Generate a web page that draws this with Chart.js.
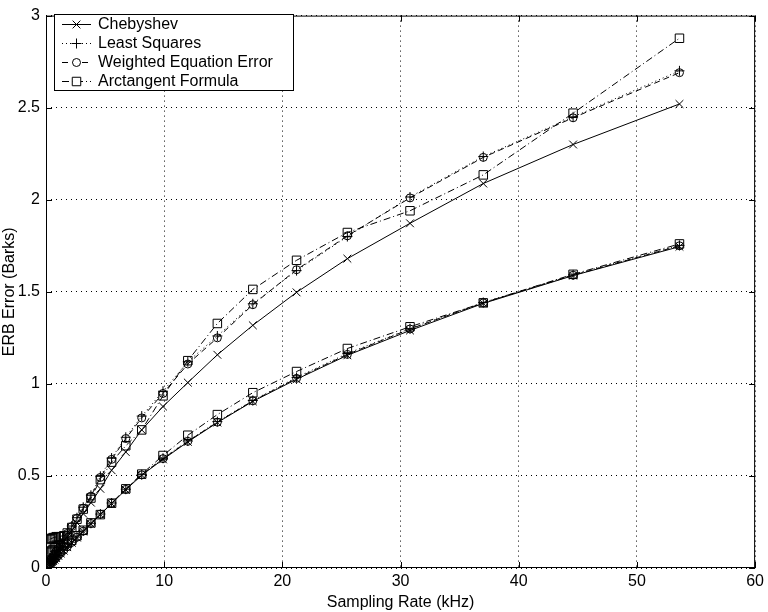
<!DOCTYPE html>
<html>
<head>
<meta charset="utf-8">
<script src="https://cdn.jsdelivr.net/npm/chart.js@4.4.1/dist/chart.umd.min.js"></script>
<style>
  body { margin: 0; background: #fff; }
  #theChart { display: block; }
</style>
</head>
<body>
<canvas id="theChart" width="768" height="612"></canvas>
<script>
'use strict';

// sampling rates (kHz)
let xRate = [0.34, 0.41, 0.5, 0.6, 0.72, 0.86, 1.04, 1.25, 1.5, 1.8, 2.18, 2.62, 3.15, 3.8, 4.6, 5.55, 6.75, 8.1, 9.9, 12.0, 14.5, 17.5, 21.2, 25.5, 30.8, 37.0, 44.6, 53.6];

// upper group of curves
let chebHigh = [0.032, 0.039, 0.047, 0.057, 0.068, 0.082, 0.098, 0.118, 0.142, 0.17, 0.205, 0.245, 0.295, 0.355, 0.43, 0.531, 0.63, 0.75, 0.877, 1.007, 1.158, 1.318, 1.497, 1.68, 1.872, 2.088, 2.30, 2.52];
let lsHigh = [0.036, 0.044, 0.053, 0.063, 0.076, 0.091, 0.11, 0.132, 0.158, 0.19, 0.228, 0.273, 0.33, 0.395, 0.498, 0.597, 0.71, 0.825, 0.96, 1.12, 1.26, 1.435, 1.615, 1.80, 2.015, 2.235, 2.45, 2.70];
let weeHigh = [0.035, 0.043, 0.052, 0.062, 0.075, 0.09, 0.108, 0.13, 0.156, 0.187, 0.225, 0.27, 0.325, 0.39, 0.492, 0.59, 0.703, 0.815, 0.948, 1.108, 1.25, 1.43, 1.62, 1.804, 2.01, 2.23, 2.445, 2.69];
let atanHigh = [0.155, 0.16, 0.16, 0.165, 0.165, 0.17, 0.17, 0.17, 0.175, 0.19, 0.22, 0.265, 0.32, 0.38, 0.48, 0.575, 0.664, 0.75, 0.935, 1.126, 1.328, 1.513, 1.671, 1.822, 1.94, 2.135, 2.47, 2.877];

// lower group of curves
let chebLow = [0.021, 0.026, 0.031, 0.038, 0.045, 0.054, 0.066, 0.079, 0.094, 0.113, 0.137, 0.165, 0.198, 0.24, 0.29, 0.35, 0.425, 0.504, 0.59, 0.685, 0.79, 0.905, 1.025, 1.155, 1.29, 1.437, 1.588, 1.745];
let lsLow = [0.022, 0.027, 0.033, 0.039, 0.047, 0.056, 0.068, 0.081, 0.097, 0.116, 0.14, 0.168, 0.201, 0.243, 0.293, 0.353, 0.428, 0.507, 0.596, 0.69, 0.795, 0.91, 1.035, 1.165, 1.30, 1.442, 1.592, 1.752];
let weeLow = [0.022, 0.027, 0.032, 0.039, 0.046, 0.055, 0.067, 0.08, 0.096, 0.115, 0.139, 0.167, 0.2, 0.242, 0.292, 0.352, 0.427, 0.506, 0.594, 0.688, 0.792, 0.908, 1.03, 1.16, 1.298, 1.44, 1.59, 1.75];
let atanLow = [0.085, 0.09, 0.095, 0.1, 0.11, 0.115, 0.12, 0.12, 0.125, 0.135, 0.15, 0.175, 0.205, 0.245, 0.29, 0.352, 0.43, 0.51, 0.611, 0.721, 0.833, 0.952, 1.067, 1.192, 1.31, 1.44, 1.595, 1.76];

let seriesNames = ['Chebyshev', 'Least Squares', 'Weighted Equation Error', 'Arctangent Formula'];
let xTicks = [0, 10, 20, 30, 40, 50, 60];
let yTicks = [0, 0.5, 1, 1.5, 2, 2.5, 3];

let fontName = '"Liberation Sans", Arial, Helvetica, sans-serif';
let fontSize = 16;

// line / marker style per legend entry
let styles = [
    { pointStyle: 'crossRot', radius: 5.5, dash: [] },
    { pointStyle: 'cross', radius: 5, dash: [1, 3] },
    { pointStyle: 'circle', radius: 4, dash: [6, 4] },
    { pointStyle: 'rect', radius: 6, dash: [7, 3, 1, 3] }
];

function toPoints(ys) {
    let pts = [];
    for (let i = 0; i < xRate.length; i++) {
        pts.push({ x: xRate[i], y: ys[i] });
    }
    return pts;
}

function makeSet(name, ys, k) {
    let s = styles[k];
    return {
        label: name,
        data: toPoints(ys),
        borderColor: '#000',
        borderWidth: 1,
        borderDash: s.dash,
        pointStyle: s.pointStyle,
        pointRadius: s.radius,
        pointBorderColor: '#000',
        pointBackgroundColor: 'rgba(0,0,0,0)',
        pointBorderWidth: 1,
        tension: 0,
        fill: false
    };
}

let highSets = [chebHigh, lsHigh, weeHigh, atanHigh];
let lowSets = [chebLow, lsLow, weeLow, atanLow];
let datasets = [];
for (let k = 0; k < 4; k++) datasets.push(makeSet(seriesNames[k], highSets[k], k));
for (let k = 0; k < 4; k++) datasets.push(makeSet(seriesNames[k], lowSets[k], k));

// box, inward ticks and the boxed legend in the top-left corner
let frame = {
    id: 'frame',
    afterDraw(chart) {
        let ctx = chart.ctx;
        let a = chart.chartArea;
        let xs = chart.scales.x;
        let ys = chart.scales.y;
        ctx.save();
        ctx.strokeStyle = '#000';
        ctx.lineWidth = 1;
        ctx.setLineDash([]);
        ctx.strokeRect(a.left + 0.5, a.top + 0.5, a.right - a.left - 1, a.bottom - a.top - 1);
        ctx.beginPath();
        xTicks.forEach(function (v) {
            let px = Math.round(xs.getPixelForValue(v)) + 0.5;
            ctx.moveTo(px, a.bottom); ctx.lineTo(px, a.bottom - 6);
            ctx.moveTo(px, a.top); ctx.lineTo(px, a.top + 6);
        });
        yTicks.forEach(function (v) {
            let py = Math.round(ys.getPixelForValue(v)) + 0.5;
            ctx.moveTo(a.left, py); ctx.lineTo(a.left + 6, py);
            ctx.moveTo(a.right, py); ctx.lineTo(a.right - 6, py);
        });
        ctx.stroke();

        // legend
        let lx = 54, ly = 14, lw = 239, lh = 76;
        ctx.fillStyle = '#fff';
        ctx.fillRect(lx, ly, lw, lh);
        ctx.strokeRect(lx + 0.5, ly + 0.5, lw, lh);
        ctx.font = fontSize + 'px ' + fontName;
        ctx.textBaseline = 'middle';
        ctx.textAlign = 'left';
        for (let k = 0; k < 4; k++) {
            let s = styles[k];
            let cy = 24 + k * 19;
            ctx.beginPath();
            ctx.setLineDash(s.dash);
            ctx.moveTo(62, cy + 0.5);
            ctx.lineTo(91, cy + 0.5);
            ctx.stroke();
            ctx.setLineDash([]);
            ctx.fillStyle = '#fff';
            Chart.helpers.drawPoint(ctx, {
                pointStyle: s.pointStyle, radius: s.radius, rotation: 0, borderWidth: 1
            }, 76.5, cy + 0.5);
            ctx.fillStyle = '#000';
            ctx.fillText(seriesNames[k], 98, cy + 1);
        }
        ctx.restore();
    }
};

function plainLabel(value) {
    return String(value);
}

let ctx = document.getElementById('theChart').getContext('2d');
let theChart = new Chart(ctx, {
    type: 'line',
    data: { datasets: datasets },
    options: {
        responsive: false,
        animation: false,
        layout: { padding: { top: 5, right: 3, left: 0, bottom: 0 } },
        plugins: {
            legend: { display: false },
            tooltip: { enabled: false }
        },
        scales: {
            x: {
                type: 'linear',
                min: 0,
                max: 60,
                afterBuildTicks: function (scale) {
                    scale.ticks = xTicks.map(function (v) { return { value: v }; });
                },
                afterFit: function (scale) { scale.height = 44; },
                ticks: { color: '#000', padding: 4, maxRotation: 0, callback: plainLabel, font: { family: fontName, size: fontSize } },
                grid: { color: '#000', lineWidth: 1, drawTicks: false },
                border: { display: false, dash: [1, 4] },
                title: {
                    display: true,
                    text: 'Sampling Rate (kHz)',
                    color: '#000',
                    padding: { top: 0, bottom: 0 },
                    font: { family: fontName, size: fontSize }
                }
            },
            y: {
                type: 'linear',
                min: 0,
                max: 3,
                afterBuildTicks: function (scale) {
                    scale.ticks = yTicks.map(function (v) { return { value: v }; });
                },
                afterFit: function (scale) { scale.width = 46; },
                ticks: { color: '#000', padding: 6, callback: plainLabel, font: { family: fontName, size: fontSize } },
                grid: { color: '#000', lineWidth: 1, drawTicks: false },
                border: { display: false, dash: [1, 4] },
                title: {
                    display: true,
                    text: 'ERB Error (Barks)',
                    color: '#000',
                    padding: 0,
                    font: { family: fontName, size: fontSize }
                }
            }
        }
    },
    plugins: [frame]
});
</script>
</body>
</html>
